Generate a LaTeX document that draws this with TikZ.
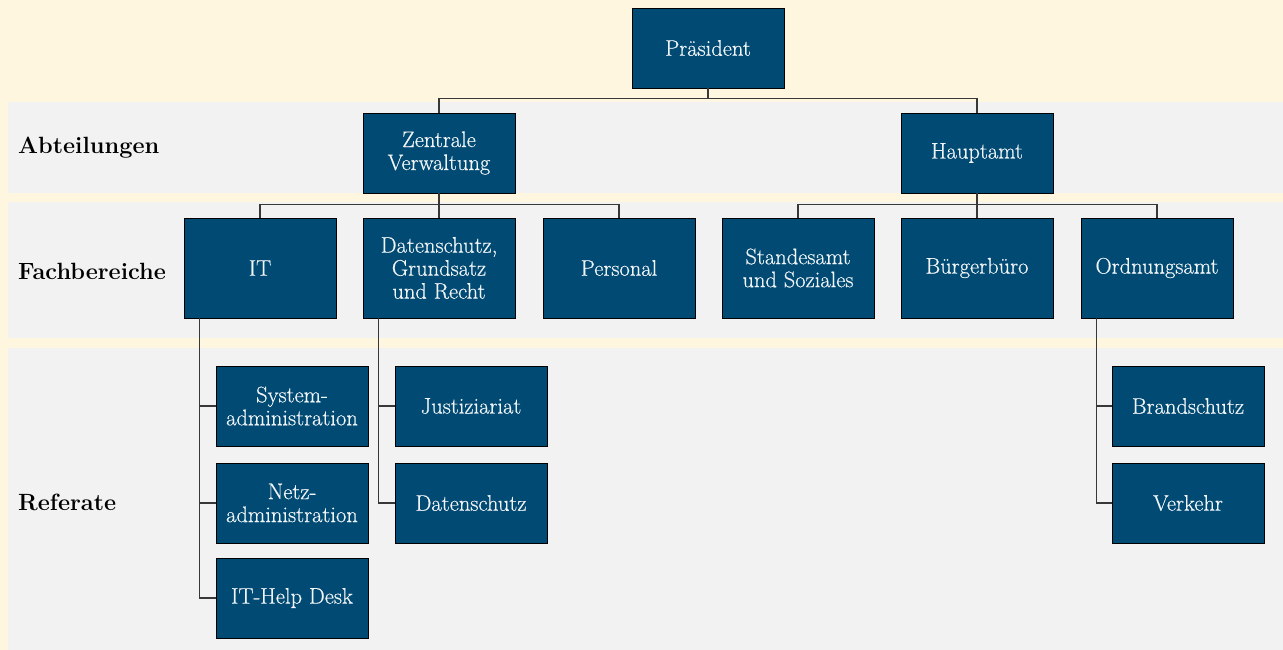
\documentclass[tikz,border=0pt]{standalone}
\usepackage{fontspec}
\usetikzlibrary{calc}
% slightly heavier regular face for the white box texts
\newfontfamily\boxfont{Latin Modern Roman}[FakeBold=0.45]
\definecolor{cream}{HTML}{FFF6DF}
\definecolor{band}{HTML}{F2F2F2}
\definecolor{boxblue}{HTML}{004A73}
\definecolor{boxtext}{HTML}{F2F5F7}
\definecolor{linegray}{HTML}{383838}
\begin{document}
\begin{tikzpicture}[x=1pt,y=-1pt,
  unit/.style={draw=black,line width=0.9pt,fill=boxblue,text=boxtext,
    minimum width=152pt,minimum height=80pt,inner sep=2pt,align=center,
    font=\boxfont\fontsize{22.5}{23}\selectfont},
  tallunit/.style={unit,minimum height=100pt},
  rowlabel/.style={anchor=west,inner sep=0pt,font=\fontsize{23.5}{26}\selectfont\bfseries},
  conn/.style={draw=linegray,line width=1.3pt}]
% background and row bands
\fill[cream] (0,0) rectangle (1283,650);
\useasboundingbox (0,0) rectangle (1283,650);
\fill[band] (8,102) rectangle (1283,193);
\fill[band] (8,202) rectangle (1283,338);
\fill[band] (8,348) rectangle (1283,650);
% row labels
\node[rowlabel] (labA) at (18,148) {Abteilungen};
\node[rowlabel] (labF) at (18,271) {Fachbereiche};
\node[rowlabel] (labR) at (18,502) {Referate};
% top level
\node[unit] (pres) at (708,48) {Präsident};
% departments
\node[unit] (zv) at (439,153) {Zentrale\\Verwaltung};
\node[unit] (ha) at (977,153) {Hauptamt};
% divisions
\node[tallunit] (it)   at (260,268) {IT};
\node[tallunit] (ds)   at (439,268) {Datenschutz,\\Grundsatz\\und Recht};
\node[tallunit] (pers) at (619,268) {Personal};
\node[tallunit] (std)  at (798,268) {Standesamt\\und Soziales};
\node[tallunit] (bb)   at (977,268) {Bürgerbüro};
\node[tallunit] (oa)   at (1157,268) {Ordnungsamt};
% sections
\node[unit] (sys)   at (292,406) {System-\\administration};
\node[unit] (netz)  at (292,503) {Netz-\\administration};
\node[unit] (help)  at (292,598) {IT-Help Desk};
\node[unit] (just)  at (471,406) {Justiziariat};
\node[unit] (dsr)   at (471,503) {Datenschutz};
\node[unit] (brand) at (1188,406) {Brandschutz};
\node[unit] (verk)  at (1188,503) {Verkehr};
% connectors: president to departments
\draw[conn] (pres.south) -- ++(0,10) -| (zv.north);
\draw[conn] (pres.south) -- ++(0,10) -| (ha.north);
% departments to divisions
\draw[conn] (zv.south) -- ++(0,11) -| (it.north);
\draw[conn] (zv.south) -- (ds.north);
\draw[conn] (zv.south) -- ++(0,11) -| (pers.north);
\draw[conn] (ha.south) -- ++(0,11) -| (std.north);
\draw[conn] (ha.south) -- (bb.north);
\draw[conn] (ha.south) -- ++(0,11) -| (oa.north);
% divisions to sections
\coordinate (itrail) at ($(it.south west)+(16,0)$);
\draw[conn] (itrail) |- (help.west);
\draw[conn] (sys.west) -- (sys.west -| itrail);
\draw[conn] (netz.west) -- (netz.west -| itrail);
\coordinate (dsrail) at ($(ds.south west)+(16,0)$);
\draw[conn] (dsrail) |- (dsr.west);
\draw[conn] (just.west) -- (just.west -| dsrail);
\coordinate (oarail) at ($(oa.south west)+(16,0)$);
\draw[conn] (oarail) |- (verk.west);
\draw[conn] (brand.west) -- (brand.west -| oarail);
\end{tikzpicture}
\end{document}
